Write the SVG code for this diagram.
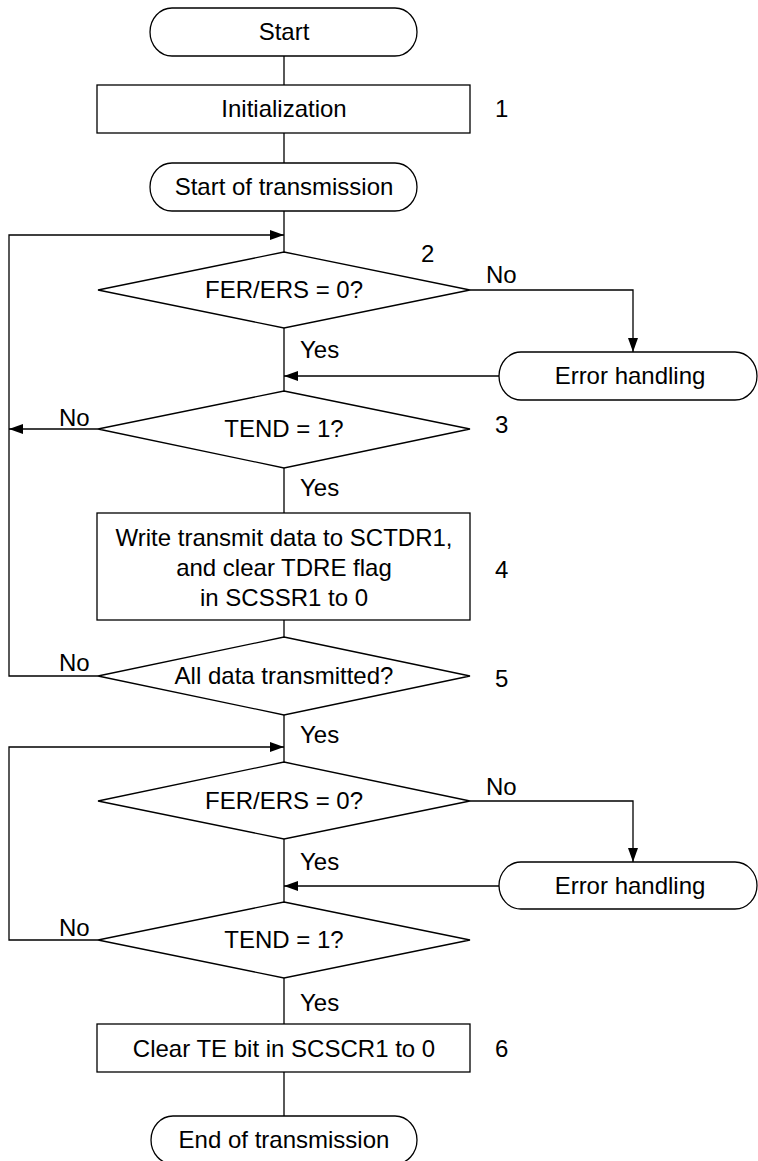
<svg xmlns="http://www.w3.org/2000/svg" width="758" height="1161" viewBox="0 0 758 1161">
<style>
text{font-family:"Liberation Sans",Arial,sans-serif;font-size:24px;fill:#000}
.c{text-anchor:middle}
.s{fill:#fff;stroke:#000;stroke-width:1.3}
.ln{fill:none;stroke:#000;stroke-width:1.3}
</style>
<defs>
<marker id="ah" viewBox="0 0 14 10" refX="14" refY="5" markerWidth="14" markerHeight="10" markerUnits="userSpaceOnUse" orient="auto">
<path d="M0,0 L14,5 L0,10 Z" fill="#000"/>
</marker>
</defs>
<rect width="758" height="1161" fill="#fff"/>
<g id="connectors">
<path class="ln" d="M284,56 V85 M284,133 V163 M284,211 V252 M284,328 V391 M284,468 V513 M284,620 V637 M284,715 V762 M284,839 V902 M284,978 V1024 M284,1072 V1116"/>
<path class="ln" d="M98,676 H9 V235 H284" marker-end="url(#ah)"/>
<path class="ln" d="M98,429 H9" marker-end="url(#ah)"/>
<path class="ln" d="M470,290 H633 V352" marker-end="url(#ah)"/>
<path class="ln" d="M499,376 H284" marker-end="url(#ah)"/>
<path class="ln" d="M98,940 H9 V747 H284" marker-end="url(#ah)"/>
<path class="ln" d="M470,801 H633 V862" marker-end="url(#ah)"/>
<path class="ln" d="M499,886 H284" marker-end="url(#ah)"/>
<text x="300" y="358">Yes</text>
<text x="486" y="283">No</text>
<text x="59" y="426">No</text>
<text x="300" y="496">Yes</text>
<text x="59" y="671">No</text>
<text x="300" y="743">Yes</text>
<text x="486" y="795">No</text>
<text x="300" y="870">Yes</text>
<text x="59" y="936">No</text>
<text x="300" y="1011">Yes</text>
</g>
<g id="start">
<rect class="s" x="150" y="8" width="267" height="48" rx="22" ry="24"/>
<text class="c" x="284" y="40">Start</text>
</g>
<g id="init">
<rect class="s" x="97" y="85" width="373" height="48"/>
<text class="c" x="284" y="117">Initialization</text>
<text x="495" y="117">1</text>
</g>
<g id="start-tx">
<rect class="s" x="150" y="163" width="267" height="48" rx="22" ry="24"/>
<text class="c" x="284" y="195">Start of transmission</text>
</g>
<g id="dec-fer1">
<polygon class="s" points="284,252 470,290 284,328 98,290"/>
<text class="c" x="284" y="298">FER/ERS = 0?</text>
<text x="421" y="262">2</text>
</g>
<g id="err1">
<rect class="s" x="499" y="352" width="258" height="48" rx="22" ry="24"/>
<text class="c" x="630" y="384">Error handling</text>
</g>
<g id="dec-tend1">
<polygon class="s" points="284,391 470,429 284,468 98,429"/>
<text class="c" x="284" y="437">TEND = 1?</text>
<text x="495" y="433">3</text>
</g>
<g id="write">
<rect class="s" x="97" y="513" width="373" height="107"/>
<text class="c" x="284" y="546">Write transmit data to SCTDR1,</text>
<text class="c" x="284" y="576">and clear TDRE flag</text>
<text class="c" x="284" y="606">in SCSSR1 to 0</text>
<text x="495" y="578">4</text>
</g>
<g id="dec-all">
<polygon class="s" points="284,637 470,676 284,715 98,676"/>
<text class="c" x="284" y="684">All data transmitted?</text>
<text x="495" y="687">5</text>
</g>
<g id="dec-fer2">
<polygon class="s" points="284,762 470,801 284,839 98,801"/>
<text class="c" x="284" y="809">FER/ERS = 0?</text>
</g>
<g id="err2">
<rect class="s" x="499" y="862" width="258" height="47" rx="22" ry="23.5"/>
<text class="c" x="630" y="894">Error handling</text>
</g>
<g id="dec-tend2">
<polygon class="s" points="284,902 470,940 284,978 98,940"/>
<text class="c" x="284" y="948">TEND = 1?</text>
</g>
<g id="clear-te">
<rect class="s" x="97" y="1024" width="373" height="48"/>
<text class="c" x="284" y="1057">Clear TE bit in SCSCR1 to 0</text>
<text x="495" y="1057">6</text>
</g>
<g id="end">
<rect class="s" x="151" y="1116" width="266" height="48" rx="22" ry="24"/>
<text class="c" x="284" y="1148">End of transmission</text>
</g>
</svg>
